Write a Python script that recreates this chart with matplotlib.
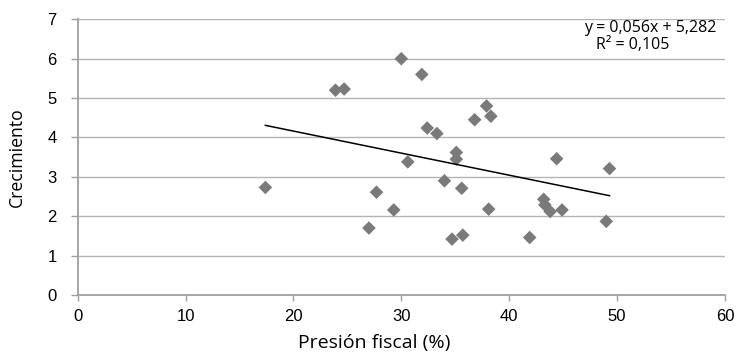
import matplotlib.pyplot as plt
import numpy as np

# presion fiscal (%) vs crecimiento
presion = [17.4, 23.9, 24.7, 30.0, 31.9, 37.9, 38.3, 36.8, 32.4, 33.3,
           35.1, 35.1, 30.6, 27.7, 34.0, 35.6, 29.3, 38.1, 27.0, 34.7,
           35.7, 41.9, 44.4, 49.3, 43.2, 43.3, 43.8, 44.9, 49.0]
crecimiento = [2.73, 5.20, 5.23, 6.00, 5.60, 4.80, 4.54, 4.45, 4.24, 4.10,
               3.62, 3.45, 3.38, 2.61, 2.90, 2.71, 2.16, 2.18, 1.70, 1.42,
               1.52, 1.46, 3.46, 3.21, 2.43, 2.29, 2.12, 2.16, 1.87]

# trend line as printed by the spreadsheet
slope = -0.056
intercept = 5.282
eq_text = "y = 0,056x + 5,282"
r2_text = "R² = 0,105"

x_ticks = [0, 10, 20, 30, 40, 50, 60]
y_ticks = [0, 1, 2, 3, 4, 5, 6, 7]

fig = plt.figure(figsize=(7.42, 3.53), dpi=100)
ax = fig.add_axes([0.1047, 0.1643, 0.8723, 0.781])

grid_col = '#b4b4b4'
for y in y_ticks[1:]:
    ax.axhline(y, color=grid_col, linewidth=1.0, zorder=1)

ax.scatter(presion, crecimiento, marker='D', s=48, color='#7a7a7a',
           edgecolors='none', zorder=3)

xs = np.array([min(presion), max(presion)])
ax.plot(xs, slope * xs + intercept, color='black', linewidth=1.1, zorder=4)

ax.set_xlim(0, 60)
ax.set_ylim(0, 7)
ax.set_xticks(x_ticks)
ax.set_yticks(y_ticks)

tick_font = {'family': 'Liberation Sans', 'size': 12}
ax.set_xticklabels([str(t) for t in x_ticks], fontdict=tick_font)
ax.set_yticklabels([str(t) for t in y_ticks], fontdict=tick_font)
ax.tick_params(axis='x', length=4, width=1, color='#a0a0a0', pad=6)
ax.tick_params(axis='y', length=5, width=1, color='#a0a0a0', pad=10)

for side in ['top', 'right']:
    ax.spines[side].set_visible(False)
for side in ['left', 'bottom']:
    ax.spines[side].set_color('#a0a0a0')
    ax.spines[side].set_linewidth(1.3)

# axis titles placed like the original (x title sits a bit left of centre)
fig.text(374 / 742, 0.004, 'Presión fiscal (%)', ha='center', va='bottom',
         fontfamily='Open Sans', fontsize=14)
fig.text(16.5 / 742, 0.554, 'Crecimiento', ha='center', va='center',
         rotation=90, fontfamily='Open Sans', fontsize=12.7)

ax.text(0.884, 0.968, eq_text, transform=ax.transAxes, ha='center',
        va='center', fontfamily='Open Sans', fontsize=11.5)
ax.text(0.858, 0.907, r2_text, transform=ax.transAxes, ha='center',
        va='center', fontfamily='Open Sans', fontsize=11.5)

fig.savefig('out.png', dpi=100)
